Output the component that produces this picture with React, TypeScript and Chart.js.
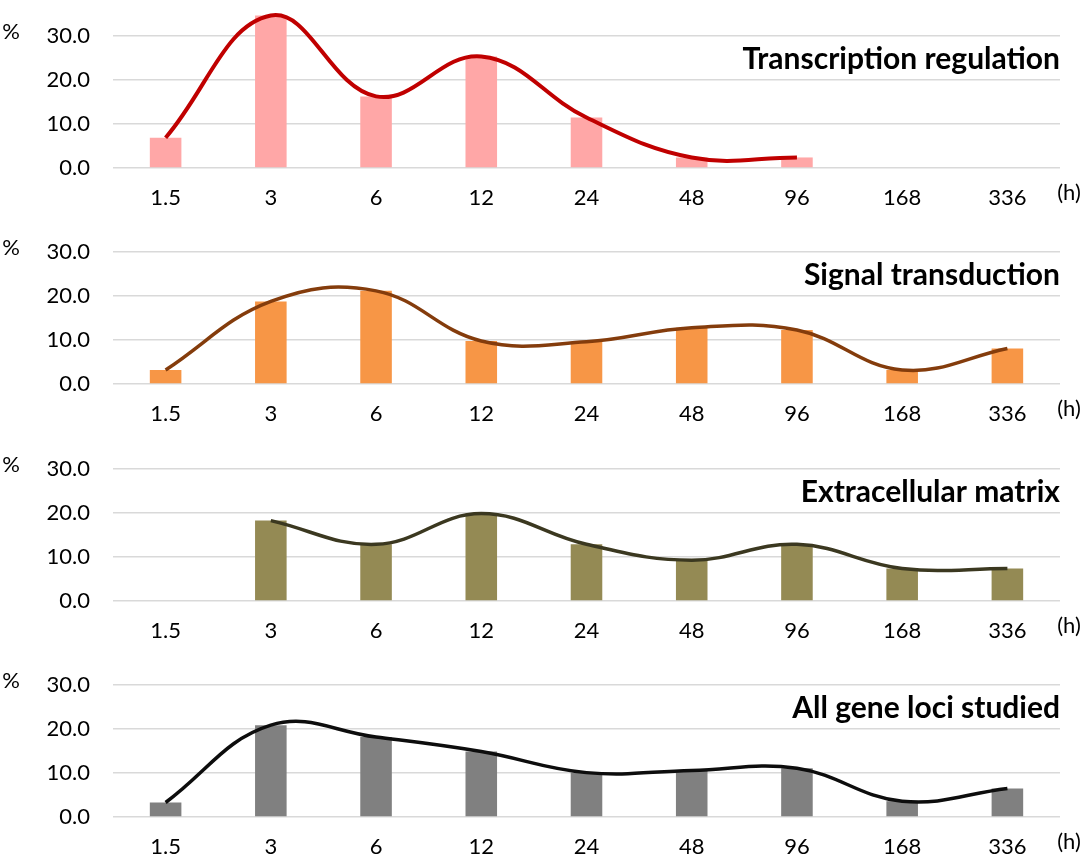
import React, { useEffect, useRef } from "react";
import { Chart, registerables } from "chart.js";

Chart.register(...registerables);

const hours = ["1.5", "3", "6", "12", "24", "48", "96", "168", "336"];
const yTicks = [0, 10, 20, 30];

const transcription = [6.9, 34.7, 16.3, 25.4, 11.5, 2.4, 2.4, null, null];
const signal = [3.2, 18.8, 21.2, 9.8, 9.6, 12.8, 12.3, 3.2, 8.1];
const extracellular = [null, 18.3, 12.9, 19.9, 12.9, 9.3, 12.9, 7.4, 7.4];
const allLoci = [3.3, 20.9, 18.2, 14.9, 10.1, 10.6, 11.1, 3.6, 6.5];

const titles = [
  "Transcription regulation",
  "Signal transduction",
  "Extracellular matrix",
  "All gene loci studied"
];

type Panel = {
  title: string;
  values: (number | null)[];
  barColor: string;
  lineColor: string;
  lineWidth: number;
};

const panels: Panel[] = [
  { title: titles[0], values: transcription, barColor: "#ffa7a7", lineColor: "#c00000", lineWidth: 4 },
  { title: titles[1], values: signal, barColor: "#f79646", lineColor: "#843c0c", lineWidth: 3.5 },
  { title: titles[2], values: extracellular, barColor: "#948a54", lineColor: "#3b3820", lineWidth: 3.5 },
  { title: titles[3], values: allLoci, barColor: "#808080", lineColor: "#0d0d0d", lineWidth: 3.5 }
];

const FONT = "Lato, 'Open Sans', sans-serif";
const PANEL_H = 216;

const annotations = {
  id: "annotations",
  afterDraw(chart: any, _args: any, opts: any) {
    const { ctx, chartArea } = chart;
    ctx.save();
    ctx.fillStyle = "#000";
    ctx.textBaseline = "middle";
    ctx.font = `bold 30px ${FONT}`;
    ctx.textAlign = "right";
    ctx.fillText(opts.title, chartArea.right, chartArea.top + 23);
    ctx.font = `22px ${FONT}`;
    ctx.textAlign = "center";
    ctx.fillText("%", 11, chartArea.top - 4);
    ctx.fillText("(h)", 1069, chartArea.bottom + 25);
    ctx.restore();
  }
};

const PanelChart = ({ panel }: { panel: Panel }) => {
  const ref = useRef<HTMLCanvasElement>(null);

  useEffect(() => {
    if (!ref.current) return;
    const chart = new Chart(ref.current, {
      type: "bar",
      data: {
        labels: hours,
        datasets: [
          {
            type: "line",
            data: panel.values,
            borderColor: panel.lineColor,
            borderWidth: panel.lineWidth,
            tension: 0.4,
            pointRadius: 0,
            fill: false,
            clip: false,
            order: 0
          } as any,
          {
            type: "bar",
            data: panel.values,
            backgroundColor: panel.barColor,
            barPercentage: 0.3,
            categoryPercentage: 1,
            clip: false,
            order: 1
          }
        ]
      },
      options: {
        animation: false,
        responsive: true,
        maintainAspectRatio: false,
        layout: { padding: { top: 28, right: 24, left: 0, bottom: 0 } },
        plugins: {
          legend: { display: false },
          tooltip: { enabled: false },
          annotations: { title: panel.title }
        } as any,
        scales: {
          x: {
            offset: true,
            grid: { display: false, drawTicks: false },
            border: { display: false },
            ticks: { padding: 17, color: "#000", font: { family: FONT, size: 22 } },
            afterFit: (scale: any) => {
              scale.height = 48;
            }
          },
          y: {
            min: 0,
            max: 30,
            grid: { color: "#d9d9d9", lineWidth: 1.5, drawTicks: false },
            border: { display: false },
            ticks: {
              padding: 23,
              color: "#000",
              font: { family: FONT, size: 22 },
              callback: (v: any) => Number(v).toFixed(1)
            },
            afterBuildTicks: (scale: any) => {
              scale.ticks = yTicks.map((value) => ({ value }));
            },
            afterFit: (scale: any) => {
              scale.width = 113;
            }
          }
        }
      },
      plugins: [annotations]
    });
    return () => {
      chart.destroy();
    };
  }, [panel]);

  return <canvas ref={ref} />;
};

const App = () => (
  <div style={{ position: "absolute", left: 0, top: 0, width: 1084, height: 861, background: "#fff" }}>
    {panels.map((p, i) => (
      <div
        key={p.title}
        style={{ position: "absolute", left: 0, top: Math.round(i * 216.4), width: 1084, height: PANEL_H }}
      >
        <PanelChart panel={p} />
      </div>
    ))}
  </div>
);

export default App;
